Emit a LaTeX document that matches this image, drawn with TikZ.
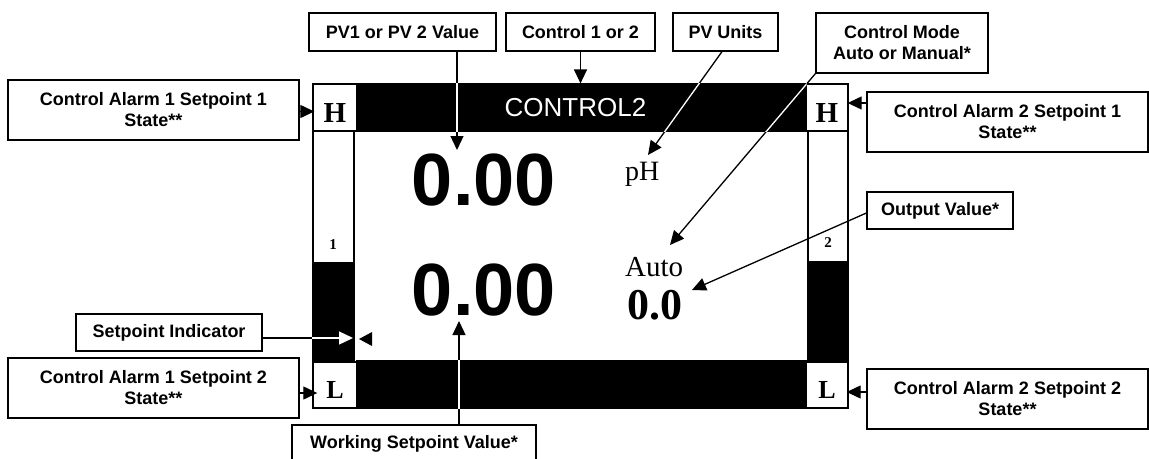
\documentclass[tikz,border=0pt]{standalone}
\usepackage{fontspec}
\setmainfont{Liberation Serif}
\setsansfont{Liberation Sans}
\usetikzlibrary{arrows.meta}
\begin{document}
\begin{tikzpicture}[x=1pt,y=-1pt,
  lab/.style={draw, line width=1.2pt, fill=white, font=\sffamily\bfseries\fontsize{18}{21}\selectfont, align=center, inner sep=0pt},
  arr/.style={line width=1.3pt, -{Triangle[length=14pt,width=13pt]}},
  wline/.style={line width=1.3pt},
  blk/.style={fill=black, draw=black, line width=1.2pt, inner sep=0pt},
  wbox/.style={fill=white, draw=black, line width=1.4pt, inner sep=0pt},
  hfont/.style={font=\rmfamily\bfseries\fontsize{29}{29}\selectfont, text height=29pt, text depth=0pt},
  lfont/.style={font=\rmfamily\bfseries\fontsize{26}{26}\selectfont, text height=26pt, text depth=0pt},
  numfont/.style={font=\rmfamily\bfseries\fontsize{15}{15}\selectfont, inner sep=0pt},
  bignum/.style={font=\sffamily\bfseries\fontsize{74}{74}\selectfont, inner sep=0pt}
]
\clip (0,0) rectangle (1149,458);

% display
\node[blk, minimum width=449pt, minimum height=47pt] (bar) at (581.5,107.5) {};
\node[font=\sffamily\fontsize{26}{26}\selectfont, text=white, inner sep=0pt] (title) at (575.5,107.5) {CONTROL2};
\node[blk, minimum width=449pt, minimum height=47pt] (bbar) at (581.5,384.5) {};
\node[blk, minimum width=41pt, minimum height=99pt] (lcolb) at (333.5,312.5) {};
\node[blk, minimum width=40pt, minimum height=100pt] (rcolb) at (828,312) {};
\node[wbox, minimum width=41pt, minimum height=132pt] (lcolw) at (333.5,197) {};
\node[wbox, minimum width=40pt, minimum height=131pt] (rcolw) at (828,196.5) {};
\node[wbox, minimum width=44pt, minimum height=47pt, hfont] (hl) at (335,107.5) {H};
\node[wbox, minimum width=42pt, minimum height=47pt, hfont] (hr) at (827,107.5) {H};
\node[wbox, minimum width=44pt, minimum height=46pt, lfont] (ll) at (335,385) {L};
\node[wbox, minimum width=42pt, minimum height=46pt, lfont] (lr) at (827,385) {L};
\node[numfont] (n1) at (333,245) {1};
\node[numfont] (n2) at (828,243) {2};

\node[bignum] (pv1v) at (484,180) {0.00};
\node[bignum] (pv2v) at (484,290.5) {0.00};
\node[font=\rmfamily\fontsize{28}{28}\selectfont, inner sep=0pt, anchor=base west] (ph) at (625,180) {pH};
\node[font=\rmfamily\fontsize{29}{29}\selectfont, inner sep=0pt, anchor=base west] (auto) at (625,276) {Auto};
\node[font=\rmfamily\bfseries\fontsize{44}{44}\selectfont, inner sep=0pt, anchor=base west] (outval) at (627,319) {0.0};

% labels
\node[lab, minimum width=187pt, minimum height=38pt] (pv) at (402.5,32) {PV1 or PV 2 Value};
\node[lab, minimum width=149pt, minimum height=38pt] (ctl) at (580.5,32) {Control 1 or 2};
\node[lab, minimum width=105pt, minimum height=38pt] (units) at (725.5,32) {PV Units};
\node[lab, minimum width=172pt, minimum height=60pt] (mode) at (902,43) {Control Mode\\Auto or Manual*};
\node[lab, minimum width=291pt, minimum height=60pt] (a1s1) at (153.5,110) {Control Alarm 1 Setpoint 1\\State**};
\node[lab, minimum width=281pt, minimum height=60pt] (a2s1) at (1007.5,122) {Control Alarm 2 Setpoint 1\\State**};
\node[lab, minimum width=186pt, minimum height=37pt] (spi) at (169,332.5) {Setpoint Indicator};
\node[lab, minimum width=291pt, minimum height=60pt] (a1s2) at (153.5,388) {Control Alarm 1 Setpoint 2\\State**};
\node[lab, minimum width=281pt, minimum height=60pt] (a2s2) at (1007.5,399) {Control Alarm 2 Setpoint 2\\State**};
\node[lab, minimum width=146pt, minimum height=37pt] (outv) at (940,210.5) {Output Value*};
\node[lab, minimum width=244pt, minimum height=38pt] (wsp) at (414,444) {Working Setpoint Value*};

% tip coordinates
\coordinate (pvtip) at (457,150);
\coordinate (phtip) at (648,155);
\coordinate (autotip) at (670,245);
\coordinate (outtip) at (692,290);
\coordinate (wsptip) at (459,321);
\coordinate (sptip) at (353,338);
\coordinate (hlin) at ([xshift=2pt,yshift=-4pt]hl.west);
\coordinate (hrin) at ([xshift=-1pt,yshift=4.5pt]hr.east);
\coordinate (llin) at ([xshift=5pt,yshift=-8pt]ll.west);
\coordinate (lrin) at ([xshift=-2pt,yshift=-7pt]lr.east);

% arrows
\draw[arr] (pv.south -| pvtip) -- (pvtip);
\draw[arr] (ctl.south) -- (ctl.south |- bar.north);
\draw[arr] ([xshift=-3.5pt]units.south) -- (phtip);
\draw[arr] (mode.south west) -- (autotip);
\draw[arr] ([yshift=-2.5pt]outv.west) -- (outtip);
\draw[arr] (wsp.north -| wsptip) -- (wsptip);
\draw[arr] (a1s1.east |- hlin) -- (hlin);
\draw[arr] (a2s1.west |- hrin) -- (hrin);
\draw[arr] (a1s2.east |- llin) -- (llin);
\draw[arr] (a2s2.west |- lrin) -- (lrin);
\draw[wline] (spi.east |- sptip) -- (lcolb.west |- sptip);
\draw[arr, white] (lcolb.west |- sptip) -- (sptip);
\fill (359,339) -- (372,332) -- (372,346) -- cycle;

% white parts of the connectors over black bars
\begin{scope}
\clip (bar.south west) rectangle (bar.north east);
\draw[wline, white] (pv.south -| pvtip) -- (pvtip);
\draw[wline, white] ([xshift=-3.5pt]units.south) -- (phtip);
\draw[wline, white] (mode.south west) -- (autotip);
\end{scope}
\begin{scope}
\clip (bbar.south west) rectangle (bbar.north east);
\draw[wline, white] (wsp.north -| wsptip) -- (wsptip);
\end{scope}
\end{tikzpicture}
\end{document}
